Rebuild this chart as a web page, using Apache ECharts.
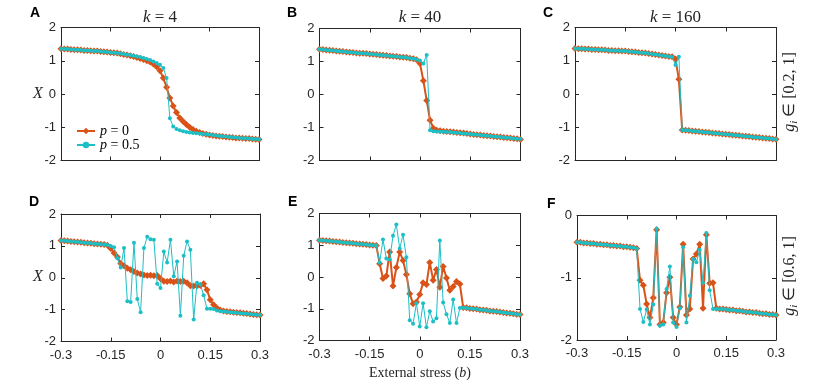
<!DOCTYPE html>
<html>
<head>
<meta charset="utf-8">
<script src="https://cdn.jsdelivr.net/npm/echarts@6/dist/echarts.min.js"></script>
<style>
    html, body { margin: 0; padding: 0; background: #ffffff; }
    #chart { width: 814px; height: 388px; }
</style>
</head>
<body>
<div id="chart"></div>
<script>
// external stress b (x values)
var stress = [-0.30, -0.29, -0.28, -0.27, -0.26, -0.25, -0.24, -0.23, -0.22, -0.21,
    -0.20, -0.19, -0.18, -0.17, -0.16, -0.15, -0.14, -0.13, -0.12, -0.11,
    -0.10, -0.09, -0.08, -0.07, -0.06, -0.05, -0.04, -0.03, -0.02, -0.01,
    0.00, 0.01, 0.02, 0.03, 0.04, 0.05, 0.06, 0.07, 0.08, 0.09,
    0.10, 0.11, 0.12, 0.13, 0.14, 0.15, 0.16, 0.17, 0.18, 0.19,
    0.20, 0.21, 0.22, 0.23, 0.24, 0.25, 0.26, 0.27, 0.28, 0.29, 0.30];

// A: k = 4, g in [0.2, 1]
var aP0 = [1.36, 1.35, 1.35, 1.34, 1.33, 1.33, 1.32, 1.31, 1.31, 1.30,
    1.29, 1.29, 1.28, 1.27, 1.26, 1.25, 1.24, 1.23, 1.21, 1.19,
    1.17, 1.15, 1.13, 1.10, 1.07, 1.04, 1.00, 0.96, 0.90, 0.82,
    0.70, 0.48, 0.20, -0.12, -0.36, -0.56, -0.72, -0.83, -0.92, -1.00,
    -1.07, -1.12, -1.16, -1.19, -1.21, -1.23, -1.25, -1.26, -1.27, -1.28,
    -1.29, -1.30, -1.31, -1.32, -1.32, -1.33, -1.34, -1.34, -1.35, -1.36, -1.37];
var aP5 = [1.36, 1.35, 1.35, 1.34, 1.33, 1.33, 1.32, 1.31, 1.31, 1.30,
    1.29, 1.29, 1.28, 1.27, 1.26, 1.25, 1.24, 1.23, 1.22, 1.20,
    1.18, 1.17, 1.15, 1.13, 1.11, 1.08, 1.05, 1.02, 0.98, 0.93,
    0.88, 0.78, 0.48, -0.73, -0.98, -1.05, -1.09, -1.12, -1.14, -1.16,
    -1.17, -1.18, -1.19, -1.20, -1.21, -1.22, -1.24, -1.25, -1.26, -1.27,
    -1.28, -1.29, -1.30, -1.31, -1.32, -1.33, -1.33, -1.34, -1.35, -1.35, -1.36];

// B: k = 40
var bP0 = [1.37, 1.36, 1.35, 1.34, 1.33, 1.32, 1.31, 1.30, 1.29, 1.28,
    1.27, 1.26, 1.25, 1.25, 1.24, 1.23, 1.22, 1.21, 1.20, 1.19,
    1.18, 1.17, 1.16, 1.15, 1.14, 1.13, 1.12, 1.10, 1.08, 1.05,
    0.94, 0.42, -0.18, -0.78, -1.02, -1.08, -1.10, -1.11, -1.12, -1.13,
    -1.14, -1.15, -1.16, -1.17, -1.18, -1.20, -1.21, -1.22, -1.23, -1.24,
    -1.25, -1.26, -1.27, -1.28, -1.29, -1.30, -1.31, -1.32, -1.33, -1.34, -1.36];
var bP5 = [1.37, 1.36, 1.35, 1.34, 1.33, 1.32, 1.31, 1.30, 1.29, 1.28,
    1.27, 1.26, 1.25, 1.25, 1.24, 1.23, 1.22, 1.21, 1.20, 1.19,
    1.18, 1.17, 1.16, 1.15, 1.14, 1.13, 1.12, 1.10, 1.08, 1.06,
    1.03, 0.94, 1.20, -1.08, -1.11, -1.12, -1.13, -1.13, -1.14, -1.14,
    -1.15, -1.16, -1.17, -1.18, -1.19, -1.20, -1.21, -1.22, -1.23, -1.24,
    -1.25, -1.26, -1.27, -1.28, -1.29, -1.30, -1.31, -1.32, -1.33, -1.34, -1.35];

// C: k = 160
var cP0 = [1.37, 1.36, 1.36, 1.35, 1.35, 1.34, 1.34, 1.33, 1.33, 1.32,
    1.31, 1.31, 1.30, 1.30, 1.29, 1.29, 1.28, 1.27, 1.26, 1.25,
    1.24, 1.23, 1.22, 1.20, 1.19, 1.17, 1.16, 1.14, 1.13, 1.12,
    1.05, 0.44, -1.08, -1.09, -1.10, -1.11, -1.12, -1.13, -1.14, -1.15,
    -1.16, -1.17, -1.18, -1.19, -1.20, -1.21, -1.22, -1.23, -1.24, -1.25,
    -1.26, -1.27, -1.28, -1.29, -1.30, -1.31, -1.32, -1.33, -1.34, -1.35, -1.36];
var cP5 = [1.37, 1.36, 1.36, 1.35, 1.35, 1.34, 1.34, 1.33, 1.33, 1.32,
    1.31, 1.31, 1.30, 1.30, 1.29, 1.29, 1.28, 1.27, 1.26, 1.25,
    1.24, 1.23, 1.22, 1.20, 1.19, 1.17, 1.16, 1.14, 1.13, 1.11,
    0.87, 1.12, -1.08, -1.09, -1.10, -1.11, -1.12, -1.13, -1.14, -1.15,
    -1.16, -1.17, -1.18, -1.19, -1.20, -1.21, -1.22, -1.23, -1.24, -1.25,
    -1.26, -1.27, -1.28, -1.29, -1.30, -1.31, -1.32, -1.33, -1.34, -1.35, -1.36];

// D: k = 4, g in [0.6, 1]
var dP0 = [1.17, 1.16, 1.15, 1.14, 1.13, 1.12, 1.11, 1.10, 1.09, 1.08,
    1.07, 1.06, 1.05, 1.04, 1.02, 0.92, 0.78, 0.65, 0.45, 0.38,
    0.30, 0.25, 0.20, 0.15, 0.12, 0.09, 0.07, 0.08, 0.06, 0.07,
    -0.03, -0.11, -0.12, -0.10, -0.13, -0.10, -0.12, -0.11, -0.16, -0.25,
    -0.26, -0.25, -0.24, -0.19, -0.38, -0.69, -0.85, -0.95, -1.01, -1.04,
    -1.06, -1.07, -1.08, -1.09, -1.10, -1.11, -1.12, -1.14, -1.15, -1.16, -1.17];
var dP5 = [1.17, 1.16, 1.15, 1.14, 1.13, 1.12, 1.11, 1.10, 1.09, 1.08,
    1.07, 1.06, 1.05, 1.04, 1.03, 1.00, 0.96, 0.61, 0.32, 0.93,
    -0.74, -0.76, 1.10, -0.67, -1.08, 0.93, 1.29, 1.21, 1.19, -0.19,
    -0.32, 0.82, 0.48, 1.19, 0.05, 0.51, -1.19, 0.69, 1.14, 0.88,
    -1.31, -0.16, -0.20, -0.55, -0.97, -0.97, -0.98, -1.03, -1.05, -1.06,
    -1.07, -1.08, -1.09, -1.10, -1.11, -1.12, -1.13, -1.14, -1.15, -1.16, -1.17];

// E: k = 40
var eP0 = [1.16, 1.15, 1.14, 1.13, 1.12, 1.11, 1.10, 1.09, 1.08, 1.07,
    1.06, 1.05, 1.04, 1.03, 1.02, 1.01, 1.00, 0.99, 0.42, -0.05,
    0.03, 0.79, -0.28, 0.30, 0.79, 0.52, 0.08, -0.53, -0.84, -0.79,
    -0.55, -0.18, -0.24, 0.46, -0.10, 0.24, -0.32, 0.33, -0.03, -0.42,
    -0.30, -0.14, -0.22, -0.96, -0.97, -0.99, -1.00, -1.01, -1.03, -1.04,
    -1.05, -1.07, -1.08, -1.09, -1.10, -1.12, -1.13, -1.14, -1.16, -1.17, -1.18];
var eP5 = [1.16, 1.15, 1.14, 1.13, 1.12, 1.11, 1.10, 1.09, 1.08, 1.07,
    1.06, 1.05, 1.04, 1.03, 1.02, 1.01, 1.00, 0.99, 0.45, 1.18,
    0.58, 0.55, 1.30, 1.65, 0.90, 1.33, 0.62, -1.36, -1.47, -0.83,
    -1.56, -0.83, -1.58, -1.08, -1.40, -1.30, 1.15, -0.80, -1.17, -1.45,
    -0.71, -1.45, -0.98, -0.97, -0.98, -0.99, -1.00, -1.01, -1.03, -1.04,
    -1.05, -1.07, -1.08, -1.09, -1.10, -1.12, -1.13, -1.14, -1.16, -1.17, -1.18];

// F: k = 160
var fP0 = [-0.43, -0.43, -0.44, -0.44, -0.45, -0.45, -0.46, -0.46, -0.47, -0.47,
    -0.48, -0.48, -0.49, -0.49, -0.50, -0.50, -0.51, -0.52, -0.53, -1.04,
    -1.12, -1.42, -1.64, -1.32, -0.23, -1.75, -1.72, -1.24, -0.99, -1.64,
    -1.75, -1.47, -0.46, -1.60, -1.50, -0.70, -0.62, -0.46, -1.49, -0.31,
    -1.09, -1.08, -1.49, -1.50, -1.50, -1.51, -1.52, -1.52, -1.53, -1.53,
    -1.54, -1.55, -1.55, -1.56, -1.56, -1.57, -1.58, -1.58, -1.59, -1.59, -1.60];
var fP5 = [-0.43, -0.43, -0.44, -0.44, -0.45, -0.45, -0.46, -0.46, -0.47, -0.47,
    -0.48, -0.48, -0.49, -0.49, -0.50, -0.50, -0.51, -0.52, -0.53, -1.50,
    -1.71, -1.51, -1.75, -1.43, -0.21, -1.77, -1.75, -1.18, -0.82, -1.72,
    -1.79, -1.49, -0.51, -1.72, -1.29, -0.70, -0.75, -0.55, -1.08, -0.28,
    -1.20, -1.50, -1.50, -1.50, -1.50, -1.51, -1.52, -1.52, -1.53, -1.53,
    -1.54, -1.55, -1.55, -1.56, -1.56, -1.57, -1.58, -1.58, -1.59, -1.59, -1.60];

var orange = '#D95319';
var cyan = '#1CBFC6';
var axisColor = '#262626';

var panels = [
    { p0: aP0, p5: aP5, box: [61, 27.5, 198, 133], yMin: -2, yMax: 2, xLabels: false },
    { p0: bP0, p5: bP5, box: [319.5, 28.5, 201, 132], yMin: -2, yMax: 2, xLabels: false },
    { p0: cP0, p5: cP5, box: [575, 27.5, 201, 133], yMin: -2, yMax: 2, xLabels: false },
    { p0: dP0, p5: dP5, box: [61, 214, 199, 127.5], yMin: -2, yMax: 2, xLabels: true },
    { p0: eP0, p5: eP5, box: [319.5, 213.5, 200.5, 127], yMin: -2, yMax: 2, xLabels: true },
    { p0: fP0, p5: fP5, box: [577, 215.5, 199, 124.5], yMin: -2, yMax: 0, xLabels: true }
];

function pairs(vals) {
    return stress.map(function (b, j) { return [b, vals[j]]; });
}

var labelFont = { color: axisColor, fontSize: 13, fontFamily: 'Liberation Sans' };

var grids = [], xAxes = [], yAxes = [], series = [];
panels.forEach(function (p, i) {
    grids.push({ left: p.box[0], top: p.box[1], width: p.box[2], height: p.box[3], show: false });
    ['bottom', 'top'].forEach(function (pos) {
        xAxes.push({
            type: 'value', gridIndex: i, position: pos,
            min: -0.3, max: 0.3, interval: 0.15,
            axisLine: { show: true, onZero: false, lineStyle: { color: axisColor, width: 1 } },
            axisTick: { show: true, inside: true, length: 4, lineStyle: { color: axisColor } },
            axisLabel: Object.assign({
                show: pos === 'bottom' && p.xLabels, margin: 7,
                showMinLabel: true, showMaxLabel: true,
                formatter: function (v) { return String(+v.toFixed(2)); }
            }, labelFont),
            splitLine: { show: false }
        });
    });
    ['left', 'right'].forEach(function (pos) {
        yAxes.push({
            type: 'value', gridIndex: i, position: pos,
            min: p.yMin, max: p.yMax, interval: 1,
            axisLine: { show: true, onZero: false, lineStyle: { color: axisColor, width: 1 } },
            axisTick: { show: true, inside: true, length: 4, lineStyle: { color: axisColor } },
            axisLabel: Object.assign({
                show: pos === 'left', margin: 5,
                showMinLabel: true, showMaxLabel: true
            }, labelFont),
            splitLine: { show: false }
        });
    });
    series.push({
        name: 'p = 0', type: 'line', xAxisIndex: 2 * i, yAxisIndex: 2 * i,
        data: pairs(p.p0), symbol: 'diamond', symbolSize: 7,
        itemStyle: { color: orange }, lineStyle: { color: orange, width: 2 },
        emphasis: { disabled: true }, z: 2
    });
    series.push({
        name: 'p = 0.5', type: 'line', xAxisIndex: 2 * i, yAxisIndex: 2 * i,
        data: pairs(p.p5), symbol: 'circle', symbolSize: 4,
        itemStyle: { color: cyan }, lineStyle: { color: cyan, width: 1 },
        emphasis: { disabled: true }, z: 3
    });
});

var serif = 'Liberation Serif';
function txt(x, y, text, style, rot) {
    return {
        type: 'text', x: x, y: y, rotation: rot || 0, silent: true,
        style: Object.assign({ text: text, align: 'center', verticalAlign: 'middle', fill: axisColor }, style)
    };
}
var italic = { fontStyle: 'italic', fontFamily: serif };
var letterStyle = { fontFamily: 'Liberation Sans', fontWeight: 'bold', fontSize: 14, fill: '#000', align: 'left' };
var titleStyle = { fontFamily: serif, fontSize: 17, rich: { k: { fontStyle: 'italic', fontFamily: serif, fontSize: 17 } } };
var sideStyle = {
    fontFamily: serif, fontSize: 16, lineHeight: 20,
    rich: {
        g: { fontStyle: 'italic', fontFamily: serif, fontSize: 16, lineHeight: 20 },
        s: { fontStyle: 'italic', fontFamily: serif, fontSize: 11, lineHeight: 20, verticalAlign: 'bottom' },
        n: { fontFamily: serif, fontSize: 16, lineHeight: 20 }
    }
};

var graphics = [
    txt(30, 13, 'A', letterStyle), txt(287, 13, 'B', letterStyle), txt(543, 13, 'C', letterStyle),
    txt(29, 202, 'D', letterStyle), txt(288, 202, 'E', letterStyle), txt(547, 204, 'F', letterStyle),
    txt(160, 18, '{k|k} = 4', titleStyle),
    txt(420, 18, '{k|k} = 40', titleStyle),
    txt(675.5, 18, '{k|k} = 160', titleStyle),
    txt(38, 94, 'X', Object.assign({ fontSize: 16 }, italic)),
    txt(38, 277, 'X', Object.assign({ fontSize: 16 }, italic)),
    txt(420, 373, '{n|External stress (}{g|b}{n|)}', {
        fontFamily: serif, fontSize: 14,
        rich: { n: { fontFamily: serif, fontSize: 14 }, g: { fontStyle: 'italic', fontFamily: serif, fontSize: 14 } }
    }),
    txt(790, 92, '{g|g}{s|i}{n| \u2208 [0.2, 1]}', sideStyle, Math.PI / 2),
    txt(790, 276, '{g|g}{s|i}{n| \u2208 [0.6, 1]}', sideStyle, Math.PI / 2)
];

var chart = echarts.init(document.getElementById('chart'), null, { renderer: 'canvas' });
chart.setOption({
    backgroundColor: '#ffffff',
    animation: false,
    legend: {
        data: ['p = 0', 'p = 0.5'],
        orient: 'vertical', left: 71, top: 119,
        itemWidth: 18, itemHeight: 8, itemGap: 0,
        textStyle: {
            fontFamily: serif, fontSize: 14, color: '#000', lineHeight: 14,
            rich: { i: { fontStyle: 'italic', fontFamily: serif, fontSize: 14, lineHeight: 14 } }
        },
        formatter: function (name) { return '{i|p}' + name.slice(1); }
    },
    grid: grids,
    xAxis: xAxes,
    yAxis: yAxes,
    series: series,
    graphic: graphics
});
</script>
</body>
</html>
